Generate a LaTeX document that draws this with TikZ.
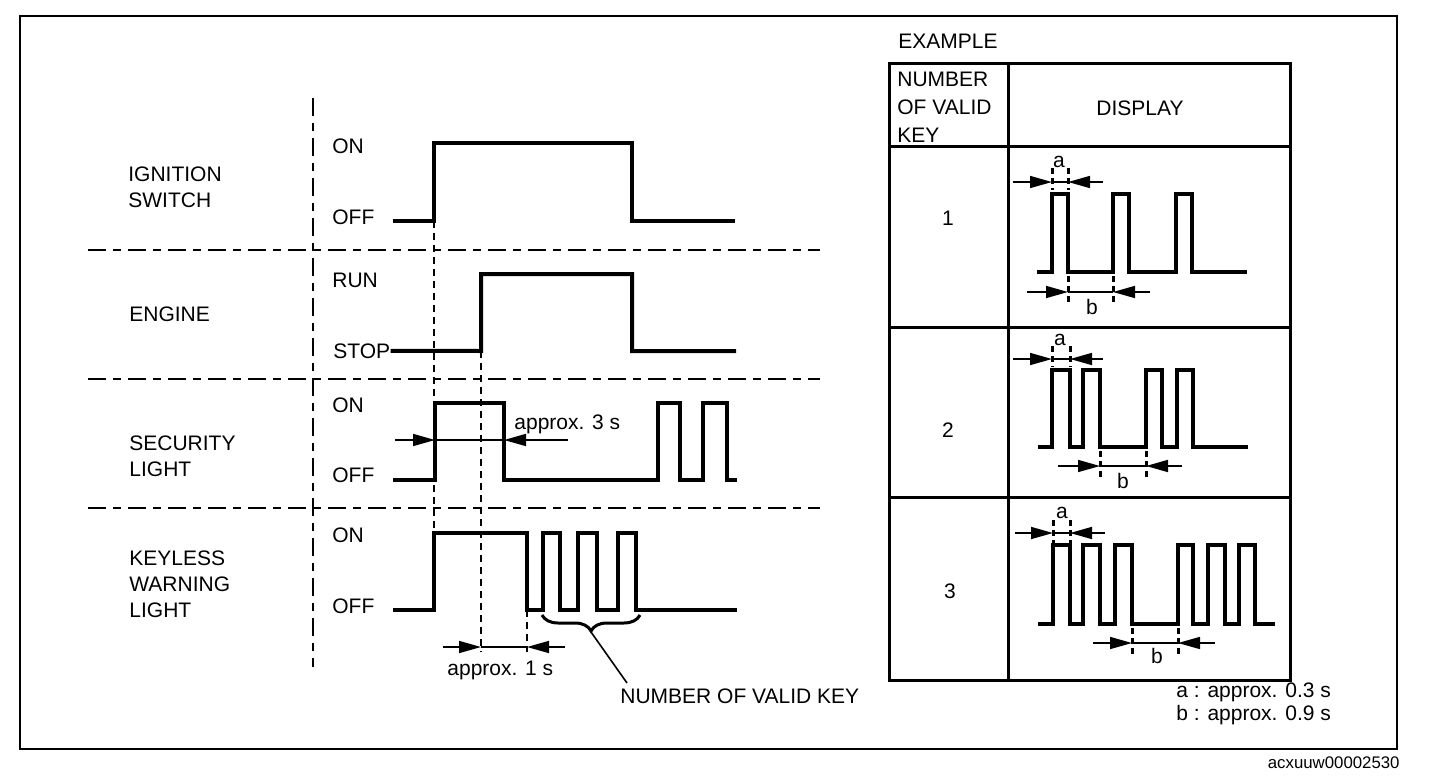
\documentclass[tikz,border=0pt]{standalone}
\usepackage{fontspec}
\setmainfont{Liberation Sans}
\usetikzlibrary{arrows.meta, decorations.pathreplacing}

\tikzset{
  lbl/.style={inner sep=0pt, font=\fontsize{10.5}{12.75}\selectfont},
  wave/.style={line width=2pt, line join=miter},
  tblwave/.style={line width=1.8pt, line join=miter},
  sep/.style={line width=1pt, dash pattern=on 9pt off 3.5pt on 4pt off 3.5pt},
  guide/.style={line width=0.8pt, dash pattern=on 3.5pt off 2.5pt},
  tick/.style={line width=1.5pt, dash pattern=on 3pt off 2pt},
  dim/.style={line width=0.8pt, -{Triangle[length=11pt, width=6pt]}}
}

\begin{document}
\begin{tikzpicture}[x=0.5pt, y=-0.5pt]
  \useasboundingbox (0,0) rectangle (1440,782);
  % frame
  \draw[line width=0.8pt] (20,16) rectangle (1397,749);
  \node[lbl, anchor=base east, font=\fontsize{8.4}{10}\selectfont] (figid) at (1400,768) {acxuuw00002530};

  % separators
  \draw[sep] (313,98) -- (313,667);
  \draw[sep] (88,250) -- (820,250);
  \draw[sep] (88,379) -- (820,379);
  \draw[sep] (88,508) -- (820,508);

  % signal names
  \node[lbl, anchor=base west, align=left] (ign) at (128,207) {IGNITION\\SWITCH};
  \node[lbl, anchor=base west] (eng) at (129,321) {ENGINE};
  \node[lbl, anchor=base west, align=left] (sec) at (129,476) {SECURITY\\LIGHT};
  \node[lbl, anchor=base west, align=left, font=\fontsize{10.5}{13}\selectfont] (key) at (129,617) {KEYLESS\\WARNING\\LIGHT};

  % levels
  \node[lbl, anchor=base west] (ignon) at (332,153) {ON};
  \node[lbl, anchor=base west] (ignoff) at (332,224) {OFF};
  \node[lbl, anchor=base west] (engrun) at (332,287) {RUN};
  \node[lbl, anchor=base west] (engstop) at (333,358) {STOP};
  \node[lbl, anchor=base west] (secon) at (332,412) {ON};
  \node[lbl, anchor=base west] (secoff) at (332,482) {OFF};
  \node[lbl, anchor=base west] (keyon) at (332,542) {ON};
  \node[lbl, anchor=base west] (keyoff) at (332,613) {OFF};

  % waveforms
  \draw[wave] (393,221) -- (434,221) -- (434,143) -- (632,143) -- (632,221) -- (735,221);
  \draw[wave] (engstop.east) -- (481,351) -- (481,274) -- (632,274) -- (632,351) -- (736,351);
  \draw[wave] (393,480) -- (435,480) -- (435,403) -- (504,403) -- (504,480) -- (658,480)
    -- (658,403) -- (680,403) -- (680,480) -- (703,480) -- (703,403) -- (727,403) -- (727,480) -- (737,480);
  \draw[wave] (393,610) -- (434,610) -- (434,533) -- (527,533) -- (527,610) -- (543,610)
    -- (543,533) -- (560,533) -- (560,610) -- (578,610) -- (578,533) -- (597,533) -- (597,610)
    -- (618,610) -- (618,533) -- (636,533) -- (636,610) -- (737,610);

  % guides
  \draw[guide] (434,221) -- (434,533);
  \draw[guide] (481,351) -- (481,652);
  \draw[guide] (527,610) -- (527,652);

  % approx. 3 s
  \draw[line width=0.8pt] (435,440) -- (504,440);
  \draw[dim] (395,440) -- (435,440);
  \draw[dim] (568,440) -- (504,440);
  \node[lbl, anchor=base west] (t3s) at (514,429) {approx. 3 s};

  % approx. 1 s
  \draw[line width=0.8pt] (481,647) -- (527,647);
  \draw[dim] (443,647) -- (481,647);
  \draw[dim] (565,647) -- (527,647);
  \node[lbl, anchor=base west] (t1s) at (447,675) {approx. 1 s};

  % number of valid key
  \draw[line width=1.5pt, decorate, decoration={brace, mirror, amplitude=8pt}] (542,615) -- (640,615);
  \coordinate (bracetip) at (591,632);
  \node[lbl, anchor=base west] (nvk) at (620,703) {NUMBER OF VALID KEY};
  \draw[line width=0.8pt] (bracetip) -- (627,683);

  % example table
  \node[lbl, anchor=base west] (exm) at (898,48) {EXAMPLE};
  \draw[line width=1.5pt] (889,63) rectangle (1290,680);
  \draw[line width=1.5pt] (1008,63) -- (1008,680);
  \draw[line width=1.5pt] (889,146) -- (1290,146);
  \draw[line width=1.5pt] (889,327) -- (1290,327);
  \draw[line width=1.5pt] (889,497) -- (1290,497);
  \node[lbl, anchor=base west, align=left, font=\fontsize{10.5}{13.8}\selectfont] (hnum) at (897,142) {NUMBER\\OF VALID\\KEY};
  \node[lbl, anchor=base] (hdisp) at (1140,115) {DISPLAY};
  \node[lbl] (n1) at (948,218) {1};
  \node[lbl] (n2) at (948,430) {2};
  \node[lbl] (n3) at (950,591) {3};

  % row 1
  \draw[tblwave] (1037,272) -- (1052,272) -- (1052,194) -- (1068,194) -- (1068,272) -- (1113,272)
    -- (1113,194) -- (1129,194) -- (1129,272) -- (1176,272) -- (1176,194) -- (1192,194) -- (1192,272) -- (1247,272);
  \draw[tick] (1052,168) -- (1052,190);
  \draw[tick] (1068,168) -- (1068,190);
  \draw[line width=0.8pt] (1052,182) -- (1068,182);
  \draw[dim] (1013,182) -- (1052,182);
  \draw[dim] (1103,182) -- (1068,182);
  \node[lbl, anchor=base] (a1) at (1059,167) {a};
  \draw[tick] (1068,276) -- (1068,304);
  \draw[tick] (1113,276) -- (1113,304);
  \draw[line width=0.8pt] (1068,292) -- (1113,292);
  \draw[dim] (1027,292) -- (1068,292);
  \draw[dim] (1150,292) -- (1113,292);
  \node[lbl, anchor=base] (b1) at (1092,314) {b};

  % row 2
  \draw[tblwave] (1038,447) -- (1052,447) -- (1052,370) -- (1070,370) -- (1070,447) -- (1083,447)
    -- (1083,370) -- (1100,370) -- (1100,447) -- (1146,447) -- (1146,370) -- (1162,370) -- (1162,447)
    -- (1177,447) -- (1177,370) -- (1193,370) -- (1193,447) -- (1248,447);
  \draw[tick] (1052,346) -- (1052,367);
  \draw[tick] (1070,346) -- (1070,367);
  \draw[line width=0.8pt] (1052,359) -- (1070,359);
  \draw[dim] (1013,359) -- (1052,359);
  \draw[dim] (1103,359) -- (1070,359);
  \node[lbl, anchor=base] (a2) at (1060,345) {a};
  \draw[tick] (1100,451) -- (1100,480);
  \draw[tick] (1146,451) -- (1146,480);
  \draw[line width=0.8pt] (1100,466) -- (1146,466);
  \draw[dim] (1058,466) -- (1100,466);
  \draw[dim] (1182,466) -- (1146,466);
  \node[lbl, anchor=base] (b2) at (1123,488) {b};

  % row 3
  \draw[tblwave] (1038,624) -- (1053,624) -- (1053,545) -- (1070,545) -- (1070,624) -- (1083,624)
    -- (1083,545) -- (1100,545) -- (1100,624) -- (1115,624) -- (1115,545) -- (1132,545) -- (1132,624)
    -- (1178,624) -- (1178,545) -- (1193,545) -- (1193,624) -- (1208,624) -- (1208,545) -- (1225,545)
    -- (1225,624) -- (1239,624) -- (1239,545) -- (1255,545) -- (1255,624) -- (1275,624);
  \draw[tick] (1053,520) -- (1053,543);
  \draw[tick] (1070,520) -- (1070,543);
  \draw[line width=0.8pt] (1053,533) -- (1070,533);
  \draw[dim] (1015,533) -- (1053,533);
  \draw[dim] (1105,533) -- (1070,533);
  \node[lbl, anchor=base] (a3) at (1062,518) {a};
  \draw[tick] (1132,628) -- (1132,657);
  \draw[tick] (1178,628) -- (1178,657);
  \draw[line width=0.8pt] (1132,643) -- (1178,643);
  \draw[dim] (1093,643) -- (1132,643);
  \draw[dim] (1215,643) -- (1178,643);
  \node[lbl, anchor=base] (b3) at (1157,663) {b};

  % legend
  \node[lbl, anchor=base west] (lega) at (1176,697) {a : approx. 0.3 s};
  \node[lbl, anchor=base west] (legb) at (1176,720) {b : approx. 0.9 s};
\end{tikzpicture}
\end{document}
